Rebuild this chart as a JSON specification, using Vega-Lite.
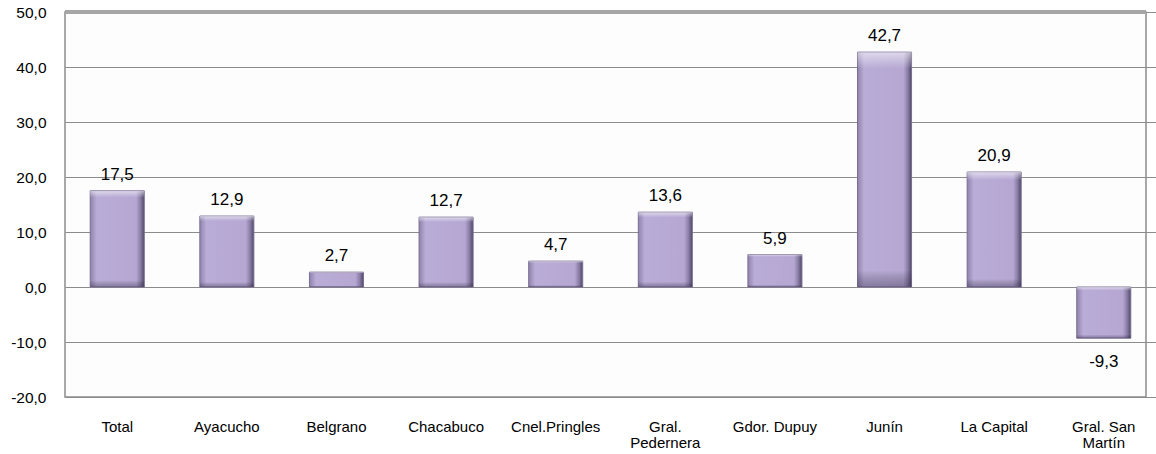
{
  "$schema": "https://vega.github.io/schema/vega-lite/v6.json",
  "width": 1081,
  "height": 385,
  "autosize": {"type": "none"},
  "padding": {"left": 65, "top": 12, "right": 10, "bottom": 57},
  "background": "#ffffff",
  "config": {
    "locale": {"number": {"decimal": ",", "thousands": ".", "grouping": [3], "currency": ["$", ""], "minus": "-"}},
    "view": {"stroke": "#8c8c8c", "strokeWidth": 1.5, "fill": "#fdfdfd"},
    "font": "Liberation Sans"
  },
  "data": {
    "values": [
      {"region": "Total", "value": 17.5},
      {"region": "Ayacucho", "value": 12.9},
      {"region": "Belgrano", "value": 2.7},
      {"region": "Chacabuco", "value": 12.7},
      {"region": "Cnel.Pringles", "value": 4.7},
      {"region": "Gral.\nPedernera", "value": 13.6},
      {"region": "Gdor. Dupuy", "value": 5.9},
      {"region": "Junín", "value": 42.7},
      {"region": "La Capital", "value": 20.9},
      {"region": "Gral. San\nMartín", "value": -9.3}
    ]
  },
  "encoding": {
    "x": {
      "field": "region",
      "type": "nominal",
      "sort": null,
      "scale": {"range": [0, 1091], "paddingInner": 0.507, "paddingOuter": 0.23},
      "axis": {
        "title": null,
        "labelAngle": 0,
        "labelExpr": "split(datum.label, '\\n')",
        "labelFont": "Liberation Sans",
        "labelFontSize": 15,
        "labelColor": "#000000",
        "labelLineHeight": 16,
        "labelBaseline": "top",
        "labelPadding": 22,
        "ticks": false,
        "domain": false,
        "grid": false
      }
    },
    "y": {
      "field": "value",
      "type": "quantitative",
      "scale": {"domain": [-20, 50], "nice": false, "zero": false},
      "axis": {
        "title": null,
        "values": [-20, -10, 0, 10, 20, 30, 40, 50],
        "format": ".1f",
        "labelFont": "Liberation Sans",
        "labelFontSize": 15.5,
        "labelColor": "#000000",
        "labelPadding": 19,
        "ticks": false,
        "domain": false,
        "grid": true,
        "gridColor": "#8c8c8c",
        "gridWidth": 1.2
      }
    }
  },
  "layer": [
    {
      "mark": {
        "type": "bar",
        "color": {
          "gradient": "linear",
          "x1": 0, "y1": 0, "x2": 1, "y2": 0,
          "stops": [
            {"offset": 0, "color": "#8f83ab"},
            {"offset": 0.12, "color": "#b9acd6"},
            {"offset": 0.85, "color": "#b5a7d2"},
            {"offset": 0.93, "color": "#8a7da6"},
            {"offset": 1, "color": "#4f4766"}
          ]
        },
        "stroke": "#7a6e96",
        "strokeWidth": 1
      }
    },
    {
      "mark": {
        "type": "bar",
        "color": {
          "gradient": "linear",
          "x1": 0, "y1": 0, "x2": 0, "y2": 1,
          "stops": [
            {"offset": 0, "color": "rgba(255,255,255,0.55)"},
            {"offset": 0.07, "color": "rgba(255,255,255,0)"},
            {"offset": 0.93, "color": "rgba(0,0,0,0)"},
            {"offset": 1, "color": "rgba(40,30,60,0.35)"}
          ]
        }
      }
    },
    {
      "mark": {"type": "rule", "color": "#a6a6a6", "strokeWidth": 3},
      "encoding": {"y": {"datum": 50}, "x": null}
    },
    {
      "transform": [{"filter": "datum.value >= 0"}],
      "mark": {"type": "text", "baseline": "alphabetic", "dy": -11, "fontSize": 17, "font": "Liberation Sans", "color": "#000000"},
      "encoding": {"text": {"field": "value", "type": "quantitative", "format": ".1f"}}
    },
    {
      "transform": [{"filter": "datum.value < 0"}],
      "mark": {"type": "text", "baseline": "alphabetic", "dy": 29, "fontSize": 17, "font": "Liberation Sans", "color": "#000000"},
      "encoding": {"text": {"field": "value", "type": "quantitative", "format": ".1f"}}
    }
  ]
}
